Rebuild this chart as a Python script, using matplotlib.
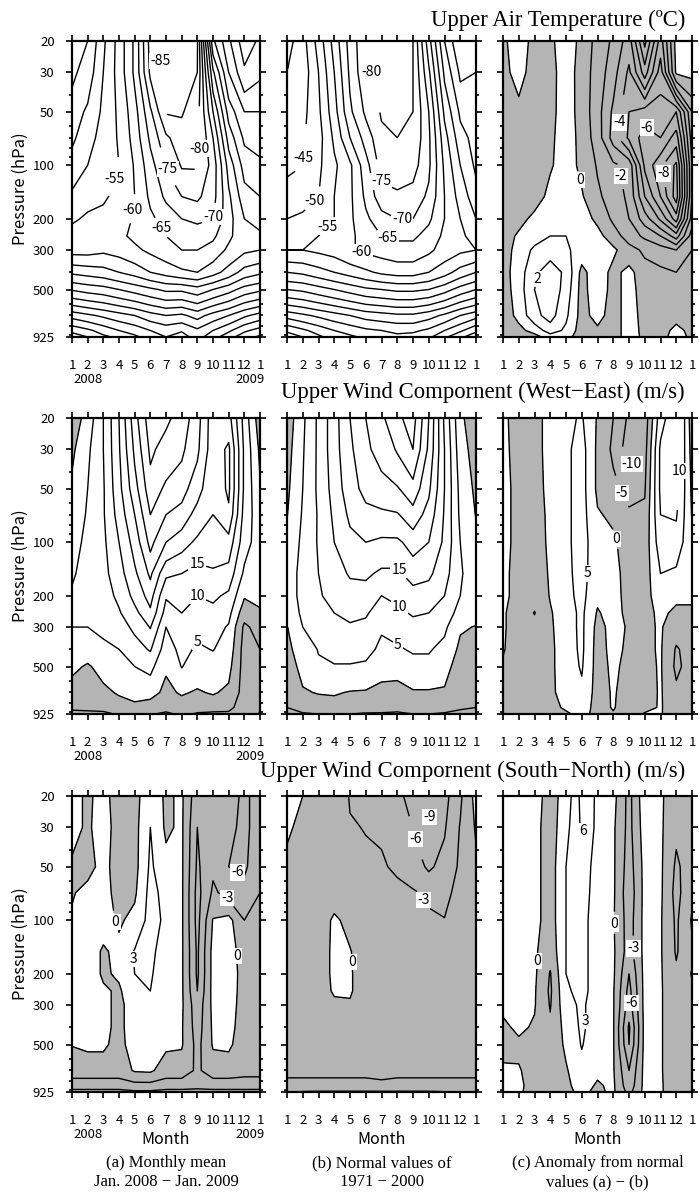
import numpy as np
import matplotlib
matplotlib.use('Agg')
import matplotlib.pyplot as plt
from matplotlib.ticker import FixedLocator, NullFormatter

plt.rcParams['font.family'] = ['Noto Sans CJK JP', 'DejaVu Sans']
plt.rcParams['contour.negative_linestyle'] = 'solid'

# pressure levels (hPa) top -> bottom, months Jan 2008 .. Jan 2009
pressure = [20, 30, 50, 70, 100, 150, 200, 250, 300, 400, 500, 700, 850, 925]
months = list(range(13))
month_labels = ['1', '2', '3', '4', '5', '6', '7', '8', '9', '10', '11', '12', '1']
p_ticks = [20, 30, 50, 100, 200, 300, 500, 925]
p_minor = [40, 60, 70, 80, 90, 400, 600, 700, 800, 900]

# temperature (deg C): one row per pressure level, one column per month
temp_mean = [
    [-37, -40, -49, -57, -66, -82, -87, -88, -85.5, -46, -36, -27, -31],
    [-39, -42, -50, -57, -66, -81, -87, -88, -85, -56, -40, -31, -34],
    [-42, -46, -51, -56, -63, -74, -85.5, -85.5, -82, -65, -48, -40, -40],
    [-44, -48, -52, -55.5, -62, -71, -79, -83, -81.5, -70, -53, -44, -43],
    [-47, -50, -53, -55, -60.5, -68, -75, -80.5, -80.5, -73, -58, -48, -46],
    [-51, -53, -54.5, -56, -60, -66, -71, -75, -76, -72, -61, -52, -50],
    [-54, -56, -56, -58, -60.5, -64, -67, -70, -71, -70, -62, -55, -53],
    [-57.5, -58, -57.5, -59, -61, -63, -65, -67, -67.5, -66, -61, -57, -56],
    [-57, -57, -56, -57, -59, -61, -63, -65, -65, -63, -59, -56, -55],
    [-46, -47, -48, -50, -52, -55, -57, -59, -60, -57, -53, -48, -46],
    [-35.5, -37, -38, -40, -42, -44, -46, -46, -48, -45, -42, -38, -36],
    [-17, -19, -21, -23, -25, -28, -30, -29, -32, -28, -25, -21, -18],
    [-6.5, -9, -12, -15, -17, -20, -22, -20.5, -24, -20, -16, -11, -8],
    [-2, -5, -9, -11, -14, -17, -20, -18, -22, -17, -12, -7, -4],
]
temp_normal = [
    [-38, -43, -52, -62, -72, -79, -82, -83, -80, -62, -45, -35, -38],
    [-40, -42, -50, -60, -71, -79, -82, -82.5, -80, -66, -49, -39, -40],
    [-42, -43.5, -49, -58, -69, -76, -80.5, -81, -80, -70, -54, -44, -42],
    [-43, -44.5, -48, -56, -65, -72, -79, -80, -79, -71, -57, -47, -43],
    [-44, -45, -49, -54, -59, -68, -77, -78, -77, -71, -59, -50, -44],
    [-47, -48, -50, -55, -59, -66, -73, -74, -73, -69, -60, -53, -47],
    [-50, -51, -52, -55, -59, -64, -68, -70, -70, -66, -60, -55, -50],
    [-53, -54, -55, -55.5, -59, -62, -65, -66, -66, -63, -59, -56, -53],
    [-55, -55, -56, -57, -59.5, -61, -62, -63, -63, -61, -58, -56, -55],
    [-45, -46, -48, -50, -52, -54, -56, -57, -57, -55, -52, -48, -45],
    [-35, -36, -38, -40, -42, -44, -45, -46, -46, -45, -42, -38, -35],
    [-17, -19, -21, -23, -25, -27, -28, -29, -29, -27, -24, -20, -17],
    [-6, -9, -12, -15, -17, -19, -20, -21, -21, -19, -15, -11, -6],
    [-2, -5, -9, -12, -14, -16, -18, -19, -18, -16, -11, -6, -2],
]
temp_anom = [
    [-0.3, 0.8, -0.5, -0.3, 0.8, -0.4, -1.3, -2.2, -3.5, 0.3, -3.5, 0.4, 0.6],
    [-0.4, 0.5, -0.6, -0.4, 0.6, -0.5, -1.4, -2.6, -4.2, -1.5, -4.5, 0.2, 0.3],
    [-0.6, -0.4, -0.8, -0.3, 0.5, -0.4, -1.6, -3.2, -5.0, -5.5, -5.5, -6.0, -2.0],
    [-0.7, -0.6, -0.8, -0.2, 0.5, -0.3, -1.5, -3.4, -5.2, -6.5, -6.0, -7.5, -2.5],
    [-0.8, -0.8, -0.7, -0.1, 0.4, -0.2, -1.1, -1.8, -2.3, -6.2, -7.8, -9.2, -3.0],
    [-0.8, -0.7, -0.5, 0.3, 0.5, 0.1, -0.8, -1.5, -2.2, -5.0, -7.0, -9.5, -3.0],
    [-0.7, -0.4, 0.3, 0.6, 0.8, 0.4, -0.2, -1.2, -2.0, -3.5, -5.2, -7.5, -2.5],
    [-0.6, 0.2, 0.6, 1.0, 1.0, 0.6, 0.3, -0.5, -1.5, -2.2, -3.0, -4.5, -1.5],
    [-0.5, 0.4, 1.2, 1.6, 1.2, 0.5, 0.5, 0.2, -0.6, -1.2, -1.5, -2.0, -1.0],
    [-0.4, 0.5, 1.8, 2.5, 1.8, -0.3, 0.6, -0.3, 0.3, -0.6, -0.8, -1.0, -0.3],
    [-0.5, 0.5, 2.0, 2.7, 1.6, -0.4, 0.7, -0.4, 0.4, -0.5, -0.6, -0.8, -0.3],
    [-0.6, 0.3, 1.7, 2.4, 1.2, -0.4, 0.4, -0.5, 0.5, -0.4, -0.7, -0.5, -0.4],
    [-0.6, -0.3, 0.4, 1.5, 0.8, -0.5, -0.2, -0.5, 0.5, -0.3, -0.6, 0.4, -0.4],
    [-0.5, -0.6, -0.4, 0.5, 0.4, -0.6, -0.3, -0.4, 0.4, -0.2, -0.5, 0.6, -0.3],
]

# winds (m/s): one row per month, one column per pressure level (transposed later)
u_mean = [
    [-3, -1, 1, 2, 3.5, 4.5, 5.5, 5.5, 5, 3, 1, -2, -4, -6.5],
    [2, 4, 5, 5.5, 6, 6.5, 6.5, 6, 5, 2, -0.5, -2, -4, -6],
    [10, 10, 9.5, 9.5, 9, 8.5, 8, 7.5, 6.5, 3.5, 1.5, -1, -3.5, -6],
    [20, 19.5, 18.5, 17, 15, 13, 11, 9.5, 8, 5, 2, 0.5, -2, -4.5],
    [33, 31, 28, 25, 22, 19, 16.5, 13.5, 11, 8, 5, 1.5, -1, -4],
    [43, 41, 38, 35, 31.5, 26, 22, 19, 15.3, 10.5, 6.5, 1.5, -2, -4.5],
    [41, 38, 34, 30, 25, 16, 10.5, 8, 5, 2.5, 0.5, -1, -3, -6],
    [38, 36, 32, 28, 22, 15, 12, 10, 8.5, 6.5, 5.2, 0.5, -2, -4],
    [32, 31, 27, 23, 19, 12.8, 10, 8, 6.3, 4.3, 2.5, -0.5, -3, -5.5],
    [22, 22, 21, 20, 17, 14.5, 11, 8.5, 7, 5.2, 3, 0.5, -3, -6],
    [22, 26, 26, 24, 18, 13, 9, 6.5, 4.5, 3, 1.5, -1, -3.5, -6],
    [8, 9, 9, 8, 7, 4, 0.5, -3, -6, -7, -7, -7, -8, -8],
    [-3, -1, 0.5, 2, 2.5, 2, 1, -0.5, -3, -5, -6, -6, -6, -4.5],
]
u_normal = [
    [-3, -2, -1, -0.2, 1.5, 2.5, 2.5, 1.5, -0.2, -1.5, -2.5, -3.5, -5, -6],
    [4, 4.5, 5, 5.5, 6, 6.5, 6.5, 6, 5, 3, 1.5, -0.5, -3, -5.5],
    [11, 11, 11, 10.5, 10.5, 10, 9.5, 8.5, 7, 5.2, 4.5, 0.3, -2.5, -5],
    [18, 18, 17, 16, 15, 13, 11.5, 10, 8.5, 6, 4.8, 0.5, -2, -5],
    [25, 24, 23, 21, 18.5, 15.5, 13, 11, 9.5, 6.5, 4.7, -0.3, -2, -5],
    [30, 29, 26.5, 23.5, 20, 16, 12.5, 10.5, 9, 6.5, 4.2, -0.5, -2.5, -5.5],
    [34, 32, 28, 24, 19, 14, 10, 8, 5.5, 4, 2.5, -2, -3, -5.5],
    [39, 35.5, 29.5, 24.5, 19, 14, 11, 9, 6.5, 4.5, 2, -2, -4, -5.5],
    [42, 40, 33, 28, 22, 17, 13, 10.5, 8.5, 5.5, 3.5, -0.5, -2.5, -5],
    [30, 29, 26, 23, 20, 16, 12.5, 10, 8, 5.5, 3.5, -0.5, -2, -5],
    [14, 15, 15, 14.5, 14, 12, 10, 8, 6, 3.5, 1.5, -0.5, -3, -5.5],
    [1, 2, 3.5, 4, 5, 5.5, 5, 3, 0.5, -1, -2, -3, -4.5, -6],
    [-3, -2, -1, -0.2, 1.5, 2.5, 2.5, 1.5, -0.2, -1.5, -2.5, -3.5, -5, -6],
]
u_anom = [
    [1, 1, 1, 1, 1, 1, 1, 0.5, 0.5, 0.3, -0.5, -0.5, -0.5, -0.5],
    [-2, -1.5, -1, -1, -1, -1.5, -1.5, -2, -2, -2, -2, -2, -1.5, -1],
    [-2, -2, -2, -2, -2, -2.5, -3.5, -5.2, -3.5, -2.5, -2, -2, -1.5, -1],
    [2, 2, 1.5, 1, 0.8, 0.5, 0.3, -0.5, -0.8, -1, -1, -1, -1, -1],
    [4, 4, 4, 4, 4, 4, 3.5, 3, 3, 2.5, 2.5, 2, 0.5, -0.5],
    [5.5, 7, 7, 7, 7, 6.5, 6.5, 6, 6, 6, 5.5, 4, 2, 1],
    [-0.5, -1, -1, 0.5, 2, 2.5, 1, -0.5, -1.5, -2, -2, -2, -1.5, -1],
    [-5, -6, -3.5, -1, 1, 2, 2, 2, 1.5, 1.5, 1, 0.5, 0.3, -0.3],
    [-11, -13, -7, -4, -3, -2.5, -2, -1.5, -0.5, -1, -1.5, -2, -2, -1.5],
    [-8, -7, -5.5, -4, -3, -2.5, -2, -1.5, -1, -1, -1.5, -2, -1, 0.3],
    [8, 11, 11, 10, 8, 5, 3, 1, 0.5, 0.5, 0.5, 0.5, 0.3, 0.2],
    [14, 13, 12, 10.5, 8, 4, 1, -1, -3, -5.5, -6, -4, -2, -1.5],
    [-3, -2, -1, -0.3, 1, 1, 0.5, -0.5, -2, -3, -3, -2, -1.5, -1],
]
v_mean = [
    [1, 1, -0.5, -0.3, 0.5, 0.8, 0.8, 0.5, 0.2, 0.2, 0.1, -1.5, -4.5, -7],
    [-0.5, -0.5, -1, 1, 2, 2, 2, 1.5, 1, 1, 0.5, -1.5, -4.5, -7],
    [1, 1.5, 1, 1, 1.5, -0.5, -0.5, 0.5, 1, 1, 0.5, -1.5, -4.5, -7],
    [-1.5, -1.5, -1.5, -1, -0.5, 1, 0.5, -0.5, -1, -1, -1, -1.5, -4.5, -7],
    [-1, -1, -1, -0.5, 1, 3.2, 3, 2.5, 2, 2, 1.5, 0.3, -4, -6.5],
    [2, 3, 3.5, 4, 4, 3.5, 3.2, 3, 3, 3, 2, 0.5, -4, -6.5],
    [-0.5, -0.5, 1, 2, 2.5, 2, 2, 1.5, 1, 1, 0.5, -1.5, -4.5, -7],
    [0.5, 0.5, 0.5, 0.5, 0.5, 0.5, 0.5, 0.5, 0.5, 0.3, 0.3, -1.5, -4.5, -7],
    [-5, -6, -6.5, -7, -7, -6.5, -6.5, -6, -5, -4.5, -4, -3.5, -5, -7],
    [-3, -3, -3.5, -2.5, 0.2, 1, 1, 1, 0.8, 0.5, 0.3, -1.5, -4.5, -7],
    [-4, -5, -6, -4, 1, 2, 2, 1.8, 1.5, 1, 0.5, -1.5, -4.5, -7],
    [-7, -7, -6.5, -5, -3, -2, -1.5, -1.5, -1.5, -1.5, -1.5, -2, -4.5, -7],
    [-4, -4, -4, -3, -2, -1.5, -1.5, -1.5, -1.5, -1.5, -1.5, -2, -4.5, -7],
]
v_normal = [
    [1, 0.3, -0.5, -0.8, -1, -1, -1, -1, -1, -1, -1, -2.3, -3.8, -5.5],
    [0, -0.5, -1, -1.2, -1.2, -1, -1, -1, -1, -1, -1, -2.3, -3.8, -6.2],
    [-0.5, -0.8, -1, -1, -1, -1.5, -1.5, -1.2, -1, -1, -1, -2.3, -3.8, -6.3],
    [-1, -1, -1, -0.8, 0.3, 0.6, 0.6, 0.3, -0.5, -1, -1, -2.3, -3.8, -6.3],
    [-3.2, -2.8, -1.5, -1, -0.5, 0.1, 0.2, 0.2, -0.2, -1, -1, -2.3, -3.8, -6.3],
    [-3.5, -3.1, -2.5, -1.8, -1.2, -1, -1, -1, -1, -1, -1, -2.3, -3.8, -6.3],
    [-3.6, -3.2, -2.8, -2.2, -1.5, -1.2, -1, -1, -1, -1, -1, -2.1, -3.6, -6.3],
    [-5, -4, -3.3, -2.5, -1.8, -1.5, -1.2, -1, -1, -1, -1, -2.3, -3.8, -6.3],
    [-7.5, -6, -4.5, -2.7, -2, -1.8, -1.5, -1.2, -1, -1, -1, -2.3, -3.8, -6.3],
    [-10, -8.5, -6.5, -3.5, -2.5, -2, -1.5, -1.2, -1, -1, -1, -2.3, -3.8, -6.3],
    [-7, -6.3, -5, -3.8, -2.9, -2, -1.5, -1.2, -1, -1, -1, -2.3, -3.8, -6.1],
    [-3.5, -2.8, -2.5, -2, -1.5, -1.2, -1.2, -1, -1, -1, -1, -2.3, -3.8, -5.8],
    [1, 0.3, -0.5, -0.8, -1, -1, -1, -1, -1, -1, -1, -2.3, -3.8, -5.5],
]
v_anom = [
    [0.5, 0.8, 1, 1, 1, 1, 1, 0.8, 0.5, -0.5, -1, 0.5, 1, 1],
    [1, 1.5, 1.5, 1.5, 1.5, 1.5, 1.5, 1.5, 1, 0.5, -0.5, 0.2, 0.5, 0.3],
    [1, 1, 1, 1, 1, 0.5, 0.5, 0.3, 0.2, -0.3, -1, -1, -1, -0.8],
    [-1, -1.5, -1.5, -1.5, -1.5, -2, -3.2, -3.5, -3.2, -2.5, -2, -1.5, -1.5, -1],
    [1, 2, 3, 3, 3, 3, 3, 2.5, 2, 1, 0.5, -0.3, -0.5, -0.5],
    [7, 6.5, 5, 4.5, 4, 4, 4, 4, 3.5, 3.5, 3.2, 2, 1, 0.5],
    [2, 2, 1.5, 1.5, 1.5, 1.5, 1.5, 1.5, 1.5, 1.5, 1, 0.5, -0.3, -0.5],
    [1, 0.5, 0.5, 0.5, 0.3, 0.5, 0.5, 0.3, 0.3, 0.3, 0.3, 0.3, 0.5, 0.5],
    [-4, -4, -4.5, -5, -4.5, -4.5, -6, -7, -7.5, -9.5, -9, -6, -5, -4],
    [2, 1.5, 1, 1, 1, 1, 1, 1, 1, 1, 1, 1, 1, 1],
    [0.5, 0.5, 0.5, 0.5, 0.3, 0.3, 0.3, 0.3, 0.3, 0.3, 0.3, 0.3, 0.3, 0.3],
    [-2, -2.5, -3.5, -4, -3.5, -3.3, -2.5, -2, -2, -2, -2, -2, -1.5, -1.5],
    [-1.5, -1.5, -1.5, -0.5, 0.3, -0.5, 0.2, -0.5, -1, -1.5, -1.5, -1.5, -1, -1],
]

row_titles = ['Upper Air Temperature (\u00baC)',
              'Upper Wind Compornent (West\u2212East) (m/s)',
              'Upper Wind Compornent (South\u2212North) (m/s)']
captions = [('(a) Monthly mean', 'Jan. 2008 \u2212 Jan. 2009'),
            ('(b) Normal values of', '1971 \u2212 2000'),
            ('(c) Anomaly from normal', 'values (a) \u2212 (b)')]

W, H = 699, 1194
GRAY = '#b4b4b4'
col_x = [(72, 260), (287, 476), (503, 692)]
row_y = [(41, 337), (418, 714), (796, 1092)]
title_base = [26, 398, 777]

fig = plt.figure(figsize=(W / 100, H / 100), dpi=100)


def add_panel(col, row):
    x0, x1 = col_x[col]
    y0, y1 = row_y[row]
    return fig.add_axes([x0 / W, 1 - y1 / H, (x1 - x0) / W, (y1 - y0) / H])


def draw(ax, z, levels, shade, labels):
    X, P = np.meshgrid(months, pressure)
    if shade:
        ax.contourf(X, P, z, levels=[z.min() - 1, 0], colors=[GRAY])
    cs = ax.contour(X, P, z, levels=levels, colors='k', linewidths=1.0)
    if labels:
        txt = ax.clabel(cs, manual=labels, fmt='%d', fontsize=10, inline=True,
                        inline_spacing=1)
        for t in txt:
            t.set_rotation(0)
            t.set_bbox(dict(boxstyle='square,pad=0.08', fc='white', ec='none'))


def style(ax, col):
    ax.set_yscale('log')
    ax.set_ylim(925, 20)
    ax.set_xlim(0, 12)
    ax.yaxis.set_major_locator(FixedLocator(p_ticks))
    ax.yaxis.set_minor_locator(FixedLocator(p_minor))
    ax.yaxis.set_minor_formatter(NullFormatter())
    if col == 0:
        ax.set_yticklabels([str(p) for p in p_ticks])
    else:
        ax.set_yticklabels([])
    ax.set_xticks(months)
    ax.set_xticklabels(month_labels)
    ax.tick_params(which='both', direction='out', top=True, right=True,
                   labelsize=9.5, width=1.2)
    ax.tick_params(axis='y', which='major', length=4.5, pad=8)
    ax.tick_params(axis='y', which='minor', length=2.5)
    ax.tick_params(axis='x', which='major', length=4.5, pad=11)
    for s in ax.spines.values():
        s.set_linewidth(1.6)


panels = [
    # temperature
    (0, 0, np.array(temp_mean), np.arange(-90, 1, 5), False,
     [(5.5, 28), (8.0, 80), (2.9, 125), (5.9, 115), (4.0, 180), (8.9, 195), (5.4, 235)]),
    (1, 0, np.array(temp_normal), np.arange(-90, 1, 5), False,
     [(5.2, 38), (1.0, 91), (6.0, 123), (1.8, 163), (7.3, 228), (3.1, 246), (6.3, 270), (4.7, 313)]),
    (2, 0, np.array(temp_anom), np.arange(-10, 4, 1), True,
     [(7.6, 60), (9.1, 70), (10.3, 110), (7.5, 115), (5.1, 116), (1.9, 434)]),
    # west-east wind
    (0, 1, np.array(u_mean).T, np.arange(-20, 60, 5), True,
     [(8.0, 121), (8.0, 199), (7.8, 349)]),
    (1, 1, np.array(u_normal).T, np.arange(-20, 60, 5), True,
     [(7.3, 131), (7.3, 221), (7.3, 365)]),
    (2, 1, np.array(u_anom).T, np.arange(-20, 30, 5), True,
     [(8.1, 27), (10.7, 37), (7.6, 48), (7.2, 95), (5.5, 150)]),
    # south-north wind
    (0, 2, np.array(v_mean).T, np.arange(-15, 15, 3), True,
     [(2.6, 108), (4.3, 163), (10.6, 44), (9.9, 75), (10.2, 160)]),
    (1, 2, np.array(v_normal).T, np.arange(-15, 15, 3), True,
     [(9.0, 23), (8.2, 33), (8.75, 70), (4.3, 171)]),
    (2, 2, np.array(v_anom).T, np.arange(-12, 12, 3), True,
     [(5.0, 28), (7.3, 104), (8.0, 144), (2.35, 170), (8.0, 292), (5.6, 370)]),
]

for col, row, z, levels, shade, labels in panels:
    ax = add_panel(col, row)
    draw(ax, z, levels, shade, labels)
    style(ax, col)
    if col == 0:
        yb = row_y[row][1] + 42
        fig.text(73 / W, 1 - yb / H, '2008', fontsize=9.5, ha='left', va='center')
        fig.text(265 / W, 1 - yb / H, '2009', fontsize=9.5, ha='right', va='center')
        yc = (row_y[row][0] + row_y[row][1]) / 2
        fig.text(20 / W, 1 - yc / H, 'Pressure (hPa)', fontsize=12, rotation=90,
                 ha='center', va='center')
    if row == 2:
        xc = (col_x[col][0] + col_x[col][1]) / 2
        fig.text(xc / W, 1 - 1139 / H, 'Month', fontsize=11.5, ha='center', va='center')
        fig.text(xc / W, 1 - 1163 / H, captions[col][0], fontsize=12,
                 family='Liberation Serif', ha='center', va='center')
        fig.text(xc / W, 1 - 1182 / H, captions[col][1], fontsize=12,
                 family='Liberation Serif', ha='center', va='center')

for row in range(3):
    fig.text(685 / W, 1 - title_base[row] / H, row_titles[row], fontsize=16.4,
             family='Liberation Serif', ha='right', va='baseline')

fig.savefig('out.png', dpi=100)
